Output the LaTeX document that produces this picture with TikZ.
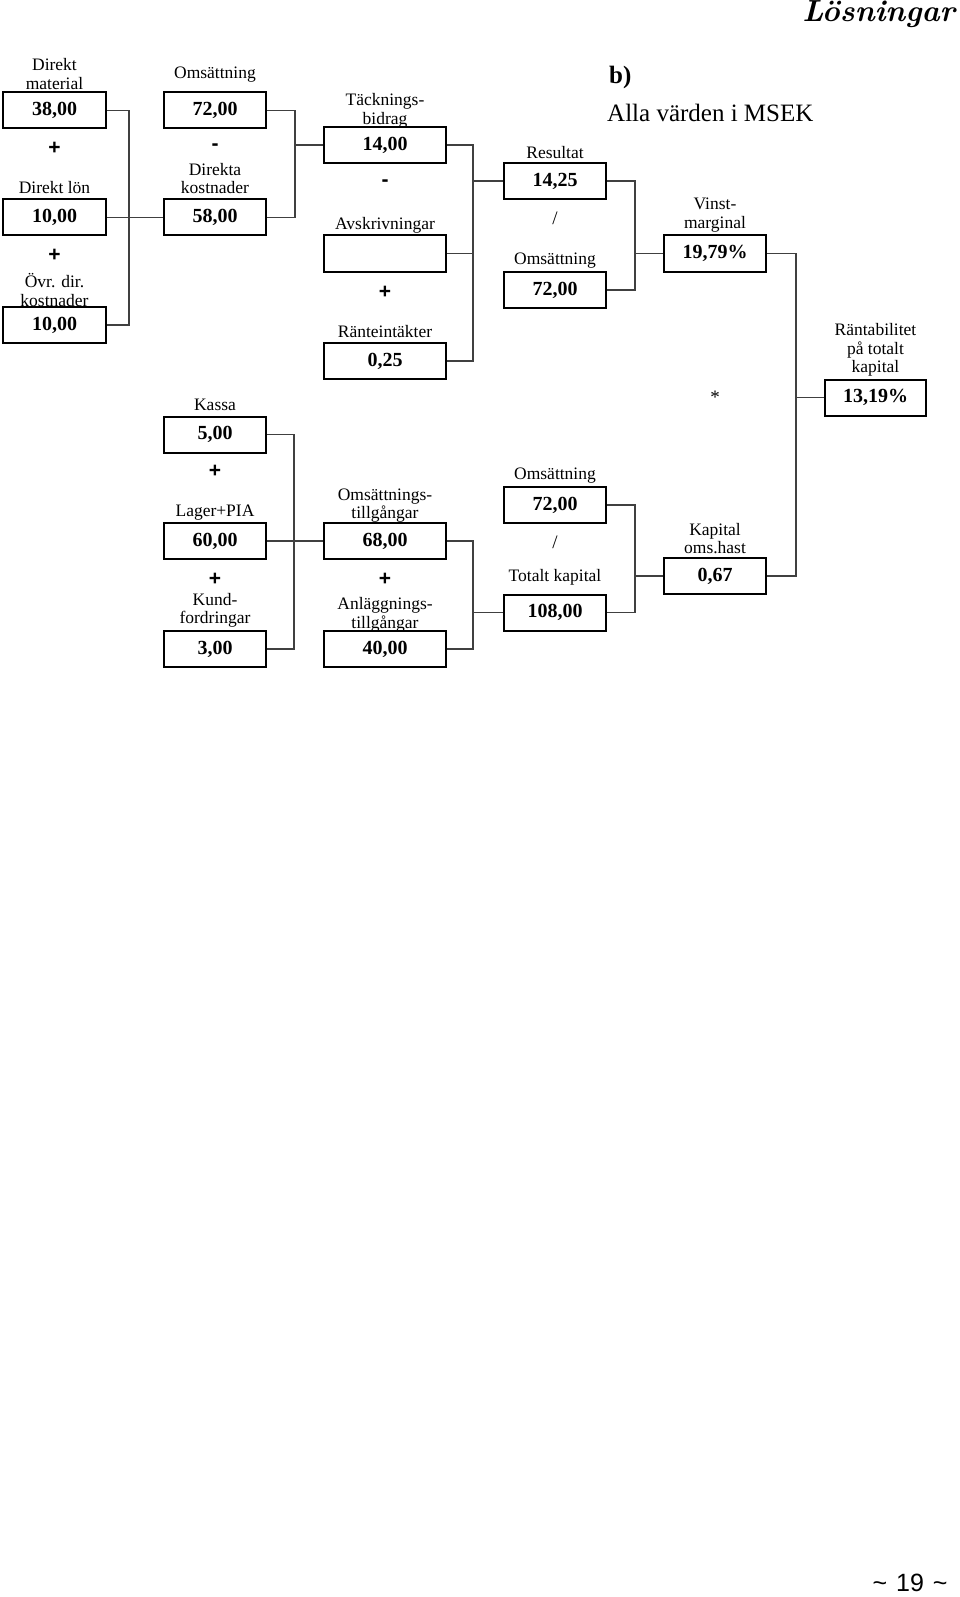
\documentclass[tikz,border=0pt]{standalone}
\usepackage{fontspec}
\newfontfamily\pagefont{Liberation Sans}
\newfontfamily\libserif{Liberation Serif}
\begin{document}
\begin{tikzpicture}[x=1pt,y=-1pt,
  valbox/.style={draw=black, line width=2pt, minimum height=36pt, inner sep=0pt,
    font=\libserif\fontsize{20}{22}\selectfont\bfseries},
  narrow/.style={valbox, minimum width=102pt},
  wide/.style={valbox, minimum width=122pt},
  lbl/.style={align=center, inner sep=0pt, font=\libserif\fontsize{17.5}{18.5}\selectfont},
  op/.style={inner sep=0pt, font=\pagefont\fontsize{21}{22}\selectfont\bfseries},
  opn/.style={inner sep=0pt, font=\libserif\fontsize{19}{20}\selectfont},
  conn/.style={draw=black!75, line width=1.2pt}
]
\useasboundingbox (0,0) rectangle (960,1597);

% Header
\node[anchor=base east, inner sep=0pt, font=\fontsize{30.5}{32}\selectfont\bfseries\itshape] (title) at (955,22) {Lösningar};
\node[anchor=west, inner sep=0pt, font=\libserif\fontsize{25}{28}\selectfont\bfseries] (bpart) at (609,77) {b)};
\node[anchor=west, inner sep=0pt, font=\libserif\fontsize{25}{28}\selectfont] (unit) at (607,113) {Alla värden i MSEK};

% Column 1
\node[lbl] (l1) at (54.5,74) {Direkt\\material};
\node[narrow, minimum width=103pt] (dm) at (54.5,110.5) {38,00};
\node[op] (p1) at (54.5,148) {+};
\node[lbl] (l2) at (54.5,188) {Direkt lön};
\node[narrow, minimum width=103pt] (dl) at (54.5,217.5) {10,00};
\node[op] (p2) at (54.5,255) {+};
\node[lbl] (l3) at (54.5,290) {Övr. dir.\\kostnader};
\node[narrow, minimum width=103pt] (od) at (54.5,325) {10,00};

% Column 2
\node[lbl] (l4) at (215,75) {Omsättning};
\node[narrow] (oms1) at (215,110.5) {72,00};
\node[op] (m1) at (215,147) {-};
\node[lbl] (l5) at (215,178.5) {Direkta\\kostnader};
\node[narrow] (dk) at (215,217.5) {58,00};

\node[lbl] (l6) at (215,405) {Kassa};
\node[narrow] (ka) at (215,434.5) {5,00};
\node[op] (p3) at (215,471) {+};
\node[lbl] (l7) at (215,513) {Lager+PIA};
\node[narrow] (lp) at (215,541) {60,00};
\node[op] (p4) at (215,579) {+};
\node[lbl] (l8) at (215,610.5) {Kund-\\fordringar};
\node[narrow] (kf) at (215,649) {3,00};

% Column 3
\node[lbl] (l9) at (385,111) {Täcknings-\\bidrag};
\node[wide] (tb) at (385,145) {14,00};
\node[op] (m2) at (385,183) {-};
\node[lbl] (l10) at (385,225) {Avskrivningar};
\node[wide] (av) at (385,253.5) {};
\node[op] (p5) at (385,292) {+};
\node[lbl] (l11) at (385,332) {Ränteintäkter};
\node[wide] (ri) at (385,361) {0,25};

\node[lbl] (l12) at (385,505.5) {Omsättnings-\\tillgångar};
\node[wide] (ot) at (385,541) {68,00};
\node[op] (p6) at (385,579) {+};
\node[lbl] (l13) at (385,615) {Anläggnings-\\tillgångar};
\node[wide] (at) at (385,649) {40,00};

% Column 4
\node[lbl] (l14) at (555,153) {Resultat};
\node[narrow] (re) at (555,181) {14,25};
\node[opn] (d1) at (555,218) {/};
\node[lbl] (l15) at (555,261) {Omsättning};
\node[narrow] (oms2) at (555,290) {72,00};

\node[lbl] (l16) at (555,476) {Omsättning};
\node[narrow] (oms3) at (555,505) {72,00};
\node[opn] (d2) at (555,542) {/};
\node[lbl] (l17) at (555,577) {Totalt kapital};
\node[narrow] (tk) at (555,612.5) {108,00};

% Column 5
\node[lbl] (l18) at (715,215) {Vinst-\\marginal};
\node[narrow] (vm) at (715,253.5) {19,79\%};
\node[opn] (st) at (715,397) {*};
\node[lbl] (l19) at (715,538.5) {Kapital\\oms.hast};
\node[narrow] (ko) at (715,576) {0,67};

% Column 6
\node[lbl] (l20) at (875.5,350) {Räntabilitet\\på totalt\\kapital};
\node[narrow, minimum width=101pt] (rt) at (875.5,397.5) {13,19\%};

% Connectors
\draw[conn] (dm.east) -- ++(22,0) |- (od.east);
\draw[conn] (dl.east) -- (dk.west);

\draw[conn] (oms1.east) -- ++(28,0) coordinate (j2) |- (dk.east);
\draw[conn] (j2 |- tb.west) -- (tb.west);

\draw[conn] (tb.east) -- ++(26,0) coordinate (j3) |- (ri.east);
\draw[conn] (av.east) -- (j3 |- av.east);
\draw[conn] (j3 |- re.west) -- (re.west);

\draw[conn] (re.east) -- ++(28,0) coordinate (j4) |- (oms2.east);
\draw[conn] (j4 |- vm.west) -- (vm.west);

\draw[conn] (vm.east) -- ++(29,0) coordinate (j5) |- (ko.east);
\draw[conn] (j5 |- rt.west) -- (rt.west);

\draw[conn] (ka.east) -- ++(27,0) |- (kf.east);
\draw[conn] (lp.east) -- (ot.west);

\draw[conn] (ot.east) -- ++(26,0) coordinate (j7) |- (at.east);
\draw[conn] (j7 |- tk.west) -- (tk.west);

\draw[conn] (oms3.east) -- ++(28,0) coordinate (j8) |- (tk.east);
\draw[conn] (j8 |- ko.west) -- (ko.west);

% Page number
\node[inner sep=0pt, font=\pagefont\fontsize{25}{28}\selectfont] (pg) at (910,1583) {\textasciitilde\hspace{9pt}19\hspace{9pt}\textasciitilde};
\end{tikzpicture}
\end{document}
